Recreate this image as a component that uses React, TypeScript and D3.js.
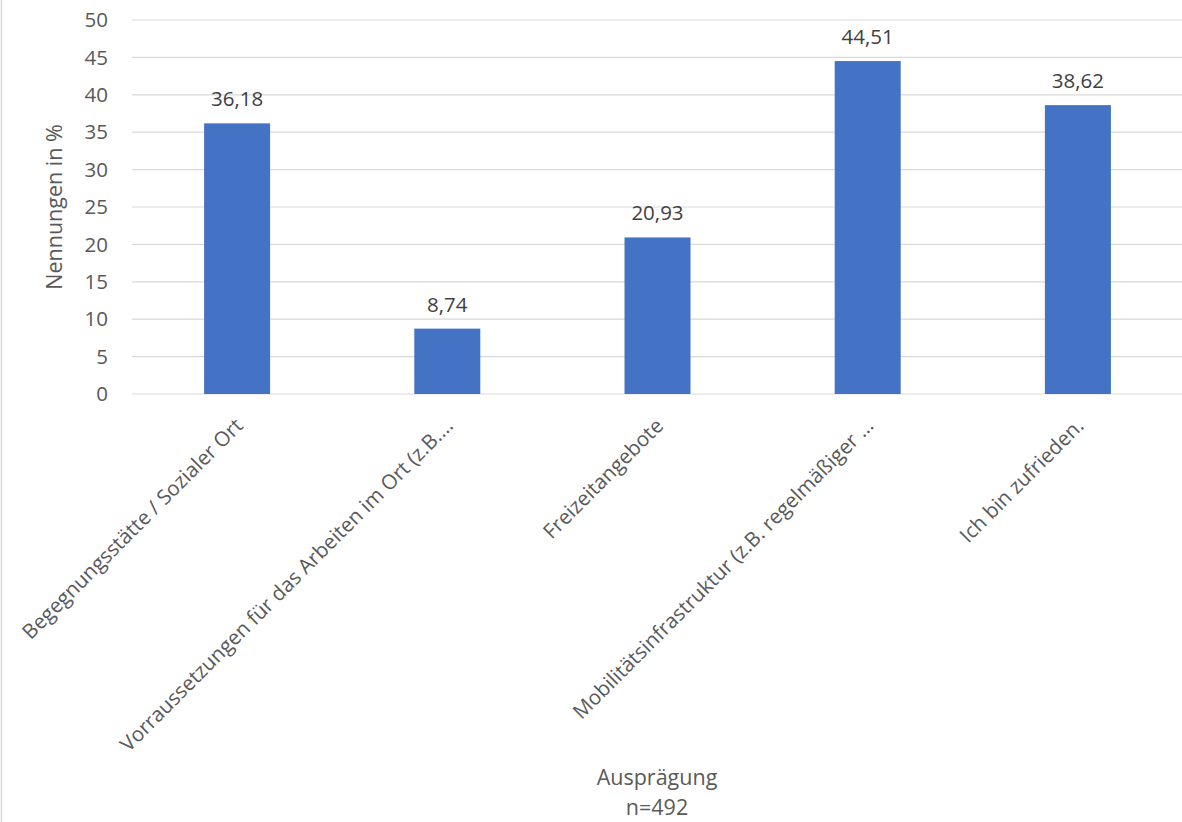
import React from "react";
import * as d3 from "d3";

const categories = [
  "Begegnungsstätte / Sozialer Ort",
  "Vorraussetzungen für das Arbeiten im Ort (z.B.…",
  "Freizeitangebote",
  "Mobilitätsinfrastruktur (z.B. regelmäßiger …",
  "Ich bin zufrieden.",
];
const values = [36.18, 8.74, 20.93, 44.51, 38.62];
const yTicks = [0, 5, 10, 15, 20, 25, 30, 35, 40, 45, 50];

const W = 1182;
const H = 822;
const FONT = "'Open Sans', 'Noto Sans', sans-serif";

export default function App() {
  const x = d3
    .scaleBand<string>()
    .domain(categories)
    .range([132, 1183])
    .paddingInner(0.686)
    .paddingOuter(0.343);
  const y = d3.scaleLinear().domain([0, 50]).range([394, 20]);
  const fmt = (v: number) => v.toFixed(2).replace(".", ",");

  return (
    <svg
      width={W}
      height={H}
      style={{ position: "absolute", left: 0, top: 0, background: "#fff" }}
      fontFamily={FONT}
    >
      <rect x={1.5} y={-2} width={W + 5} height={H + 5} fill="#fff" stroke="#d9d9d9" strokeWidth={1.5} />
      {yTicks.map((t) => (
        <g key={t}>
          <line x1={132} x2={1183} y1={y(t)} y2={y(t)} stroke="#d9d9d9" strokeWidth={1.2} />
          <text x={108} y={y(t)} dy="0.35em" textAnchor="end" fontSize={20.5} fill="#595959">
            {t}
          </text>
        </g>
      ))}
      {categories.map((c, i) => {
        const cx = (x(c) as number) + x.bandwidth() / 2;
        return (
          <g key={c}>
            <rect
              x={x(c)}
              y={y(values[i])}
              width={x.bandwidth()}
              height={y(0) - y(values[i])}
              fill="#4472c4"
            />
            <text
              x={cx}
              y={y(values[i]) - 17}
              textAnchor="middle"
              fontSize={20.5}
              fill="#404040"
            >
              {fmt(values[i])}
            </text>
            <text
              transform={`translate(${cx + 2},${422}) rotate(-45)`}
              dy="0.35em"
              textAnchor="end"
              fontSize={20.5}
              fill="#595959"
            >
              {c}
            </text>
          </g>
        );
      })}
      <text
        transform={`translate(54,207) rotate(-90)`}
        textAnchor="middle"
        dy="0.35em"
        fontSize={21.5}
        fill="#595959"
      >
        Nennungen in %
      </text>
      <text x={657} y={785} textAnchor="middle" fontSize={21.5} fill="#595959">
        Ausprägung
      </text>
      <text x={657} y={815} textAnchor="middle" fontSize={21.5} fill="#595959">
        n=492
      </text>
    </svg>
  );
}
